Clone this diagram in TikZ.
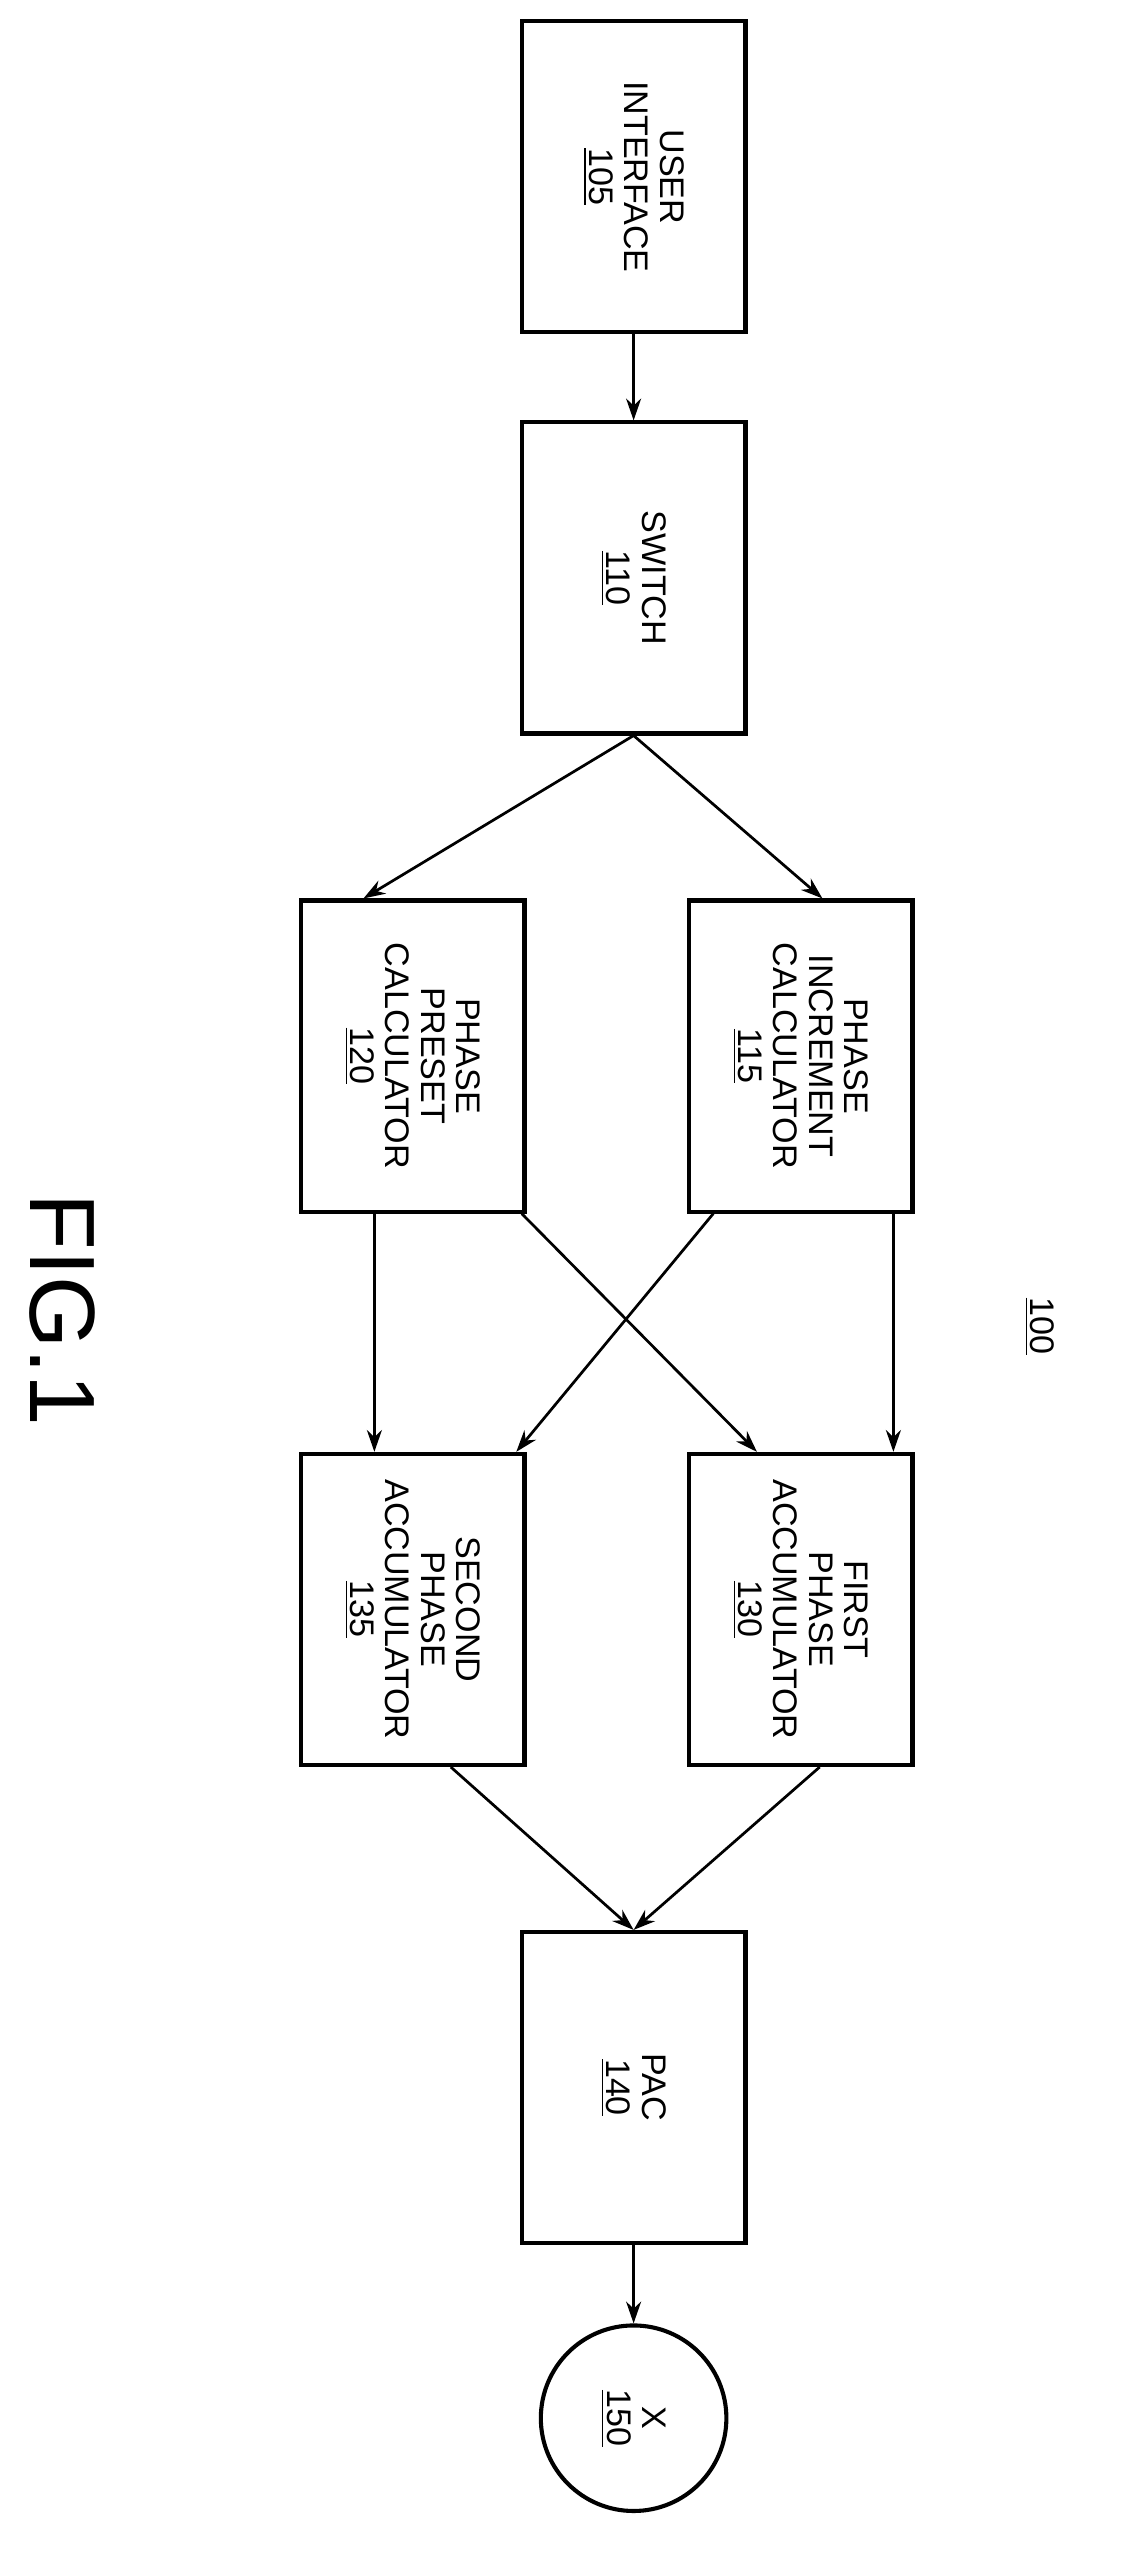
\documentclass[tikz,border=0pt]{standalone}
\usepackage{fontspec}
\setmainfont{Liberation Sans}
\usetikzlibrary{arrows.meta}
\begin{document}
\begin{tikzpicture}[x=0.6pt,y=-0.6pt,
    box/.style={draw,line width=1.5pt,minimum width=82pt,minimum height=114pt,inner sep=0pt},
    lbl/.style={rotate=-90,align=center,font=\fontsize{12.5}{13}\selectfont},
    arr/.style={-{Stealth[length=8pt,width=5.5pt]},line width=1pt}]
    \useasboundingbox (0,0) rectangle (685,1563);

    % blocks
    \node[box] (ui)  at (387,108)  {};
    \node[box] (sw)  at (387,353)  {};
    \node[box] (pre) at (252,645)  {};
    \node[box] (inc) at (489,645)  {};
    \node[box] (acc2) at (252,983) {};
    \node[box] (acc1) at (489,983) {};
    \node[box] (pac) at (387,1275) {};
    \node[draw,circle,line width=1.5pt,minimum size=68pt] (out) at (387,1477) {};

    % labels
    \node[lbl] at (ui)   {USER\\INTERFACE\\\underline{105}};
    \node[lbl] at (sw)   {SWITCH\\\underline{110}};
    \node[lbl] at (pre)  {PHASE\\PRESET\\CALCULATOR\\\underline{120}};
    \node[lbl] at (inc)  {PHASE\\INCREMENT\\CALCULATOR\\\underline{115}};
    \node[lbl] at (acc2) {SECOND\\PHASE\\ACCUMULATOR\\\underline{135}};
    \node[lbl] at (acc1) {FIRST\\PHASE\\ACCUMULATOR\\\underline{130}};
    \node[lbl] at (pac)  {PAC\\\underline{140}};
    \node[lbl] at (out)  {X\\\underline{150}};
    \node[lbl] (ref) at (635,810) {\underline{100}};
    \node[rotate=-90,font=\fontsize{34}{36}\selectfont] (fig) at (38,800) {FIG.1};

    % connectors
    \draw[arr] (ui.south) -- (sw.north);
    \draw[arr] (sw.south) -- ([xshift=-18pt]pre.north);
    \draw[arr] (sw.south) -- ([xshift=8pt]inc.north);
    \draw[arr] ([xshift=-14pt]pre.south) -- ([xshift=-14pt]acc2.north);
    \draw[arr] ([xshift=40pt]pre.south) -- ([xshift=-16pt]acc1.north);
    \draw[arr] ([xshift=34pt]inc.south) -- ([xshift=34pt]acc1.north);
    \draw[arr] ([xshift=-32pt]inc.south) -- ([xshift=38pt]acc2.north);
    \draw[arr] ([xshift=14pt]acc2.south) -- (pac.north);
    \draw[arr] ([xshift=7pt]acc1.south) -- (pac.north);
    \draw[arr] (pac.south) -- (out.north);
\end{tikzpicture}
\end{document}
